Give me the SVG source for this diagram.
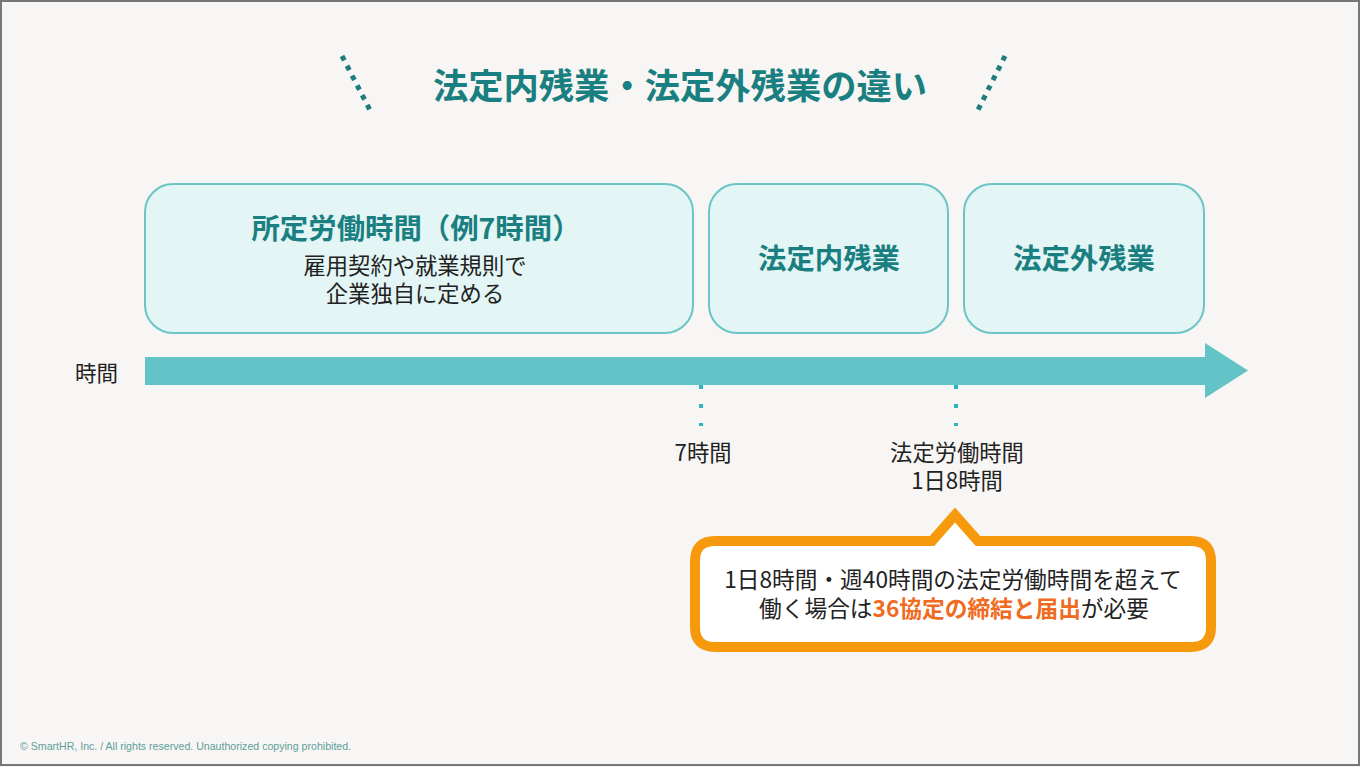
<svg xmlns="http://www.w3.org/2000/svg" width="1360" height="767" viewBox="0 0 1360 767">
<style>
text{font-family:"Noto Sans CJK JP","Noto Sans",sans-serif;}
.box{fill:#e3f5f5;stroke:#6cc5c5;stroke-width:2;}
.bt{fill:#1a7f80;font-weight:bold;font-size:28.4px;text-anchor:middle;}
.t{fill:#222;font-size:22.3px;text-anchor:middle;}
.c{fill:#222;font-size:22.7px;text-anchor:middle;}
.dot{stroke:#1f7c7c;stroke-width:5;stroke-dasharray:5 6;fill:none;}
.vdot{stroke:#2bb5c0;stroke-width:4;stroke-dasharray:4 15;fill:none;}
.foot{font-family:"Liberation Sans",sans-serif;fill:#5f9e9c;font-size:10.6px;}
</style>
<rect x="0" y="0" width="1360" height="767" fill="#f7f6f4"/>
<rect x="1" y="1" width="1358" height="764" fill="none" stroke="#777" stroke-width="2"/>
<g id="title">
<line class="dot" x1="342" y1="56" x2="372" y2="114"/>
<line class="dot" x1="1005" y1="56" x2="976" y2="114"/>
<text x="680" y="99" fill="#1a7f80" font-weight="bold" font-size="35.3" text-anchor="middle">法定内残業・法定外残業の違い</text>
</g>
<g id="shotei">
<rect class="box" x="145" y="184" width="548" height="149" rx="28"/>
<text class="bt" x="416" y="239" font-size="28.6">所定労働時間（例7時間）</text>
<text class="t" x="415" y="274">雇用契約や就業規則で</text>
<text class="t" x="415" y="302">企業独自に定める</text>
</g>
<g id="houteinai">
<rect class="box" x="709" y="184" width="239" height="149" rx="28"/>
<text class="bt" x="829" y="269">法定内残業</text>
</g>
<g id="houteigai">
<rect class="box" x="964" y="184" width="240" height="149" rx="28"/>
<text class="bt" x="1084" y="269">法定外残業</text>
</g>
<g id="timeline">
<path d="M145 357 H1205 V343 L1248 370.5 L1205 398 V385 H145 Z" fill="#62c4c6"/>
<text x="75" y="381" fill="#222" font-size="21.5">時間</text>
</g>
<g id="connectors">
<line class="vdot" x1="701" y1="385" x2="701" y2="426"/>
<line class="vdot" x1="956" y1="385" x2="956" y2="426"/>
</g>
<g id="labels">
<text class="t" x="703" y="461">7時間</text>
<text class="t" x="957" y="461">法定労働時間</text>
<text class="t" x="957" y="489">1日8時間</text>
</g>
<g id="callout">
<path d="M715 541 H932 L955 515 L978 541 H1191 Q1211 541 1211 561 V627 Q1211 647 1191 647 H715 Q695 647 695 627 V561 Q695 541 715 541 Z" fill="#fff" stroke="#f7990c" stroke-width="10" stroke-linejoin="miter"/>
<text class="c" x="953" y="588">1日8時間・週40時間の法定労働時間を超えて</text>
<text class="c" x="954" y="617">働く場合は<tspan fill="#f06a20" font-weight="bold">36協定の締結と届出</tspan>が必要</text>
</g>
<text class="foot" x="20" y="750">© SmartHR, Inc. / All rights reserved. Unauthorized copying prohibited.</text>
</svg>
